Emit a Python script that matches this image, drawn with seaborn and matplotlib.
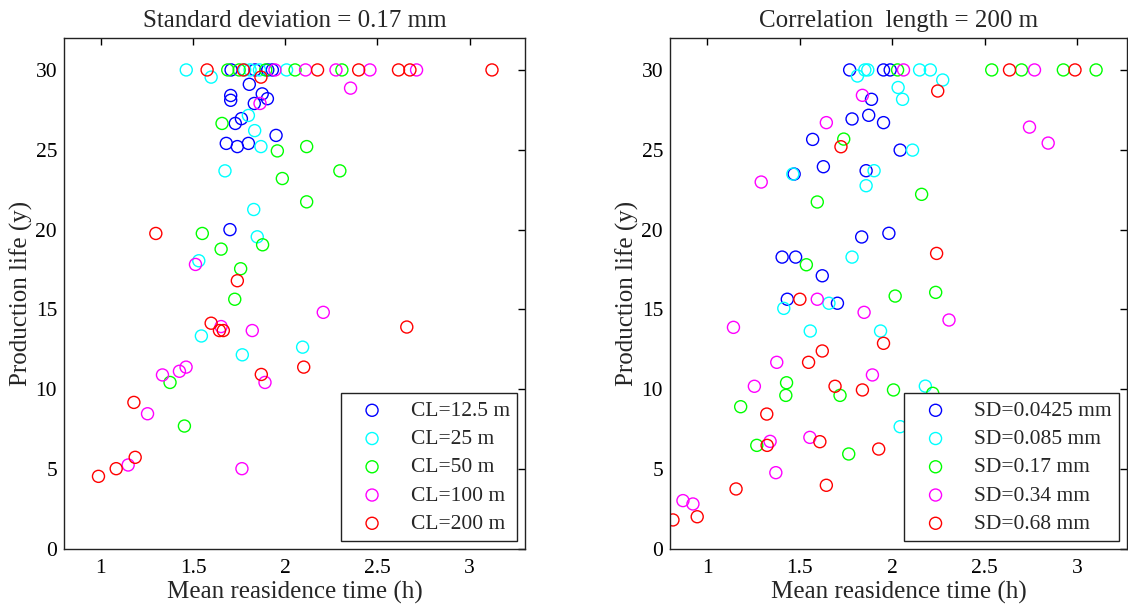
import numpy as np
import pandas as pd
import matplotlib
matplotlib.use("Agg")
import matplotlib.pyplot as plt
import seaborn as sns

# ---------------------------------------------------------------
# data (mean residence time h, production life y)
# left panel: SD = 0.17 mm, series by correlation length
# ---------------------------------------------------------------
cl_labels = ['CL=12.5 m', 'CL=25 m', 'CL=50 m', 'CL=100 m', 'CL=200 m']

cl125_x = [1.706, 1.836, 1.905, 1.93, 1.805, 1.704, 1.704, 1.875, 1.903, 1.832,
           1.729, 1.762, 1.95, 1.68, 1.74, 1.80, 1.70]
cl125_y = [30, 30, 30, 30, 29.1, 28.4, 28.1, 28.5, 28.2, 27.9,
           26.65, 26.95, 25.9, 25.4, 25.2, 25.4, 20.0]

cl25_x = [1.463, 1.78, 1.809, 1.86, 2.007, 1.598, 1.80, 1.834, 1.868, 1.673,
          1.829, 1.848, 1.531, 1.545, 1.767, 2.094]
cl25_y = [30, 30, 30, 30, 30, 29.55, 27.15, 26.2, 25.2, 23.68,
          21.26, 19.55, 18.05, 13.34, 12.16, 12.64]

cl50_x = [1.688, 1.75, 1.894, 2.053, 2.307, 1.657, 1.957, 2.116, 1.984, 2.296,
          2.116, 1.55, 1.877, 1.652, 1.758, 1.726, 1.375, 1.453]
cl50_y = [30, 30, 30, 30, 30, 26.65, 24.93, 25.2, 23.2, 23.68,
          21.74, 19.76, 19.05, 18.78, 17.55, 15.64, 10.43, 7.7]

cl100_x = [1.944, 2.11, 2.275, 2.459, 2.712, 1.863, 2.354, 1.513, 1.652, 1.821,
           2.206, 1.89, 1.334, 1.426, 1.462, 1.253, 1.148, 1.765]
cl100_y = [30, 30, 30, 30, 30, 27.9, 28.86, 17.82, 13.93, 13.68,
           14.82, 10.43, 10.9, 11.13, 11.39, 8.47, 5.26, 5.03]

cl200_x = [1.576, 1.773, 2.175, 2.398, 2.614, 2.676, 3.121, 1.868, 1.298, 1.74,
           1.598, 1.643, 1.664, 2.659, 2.10, 1.87, 1.179, 1.186, 1.083, 0.987]
cl200_y = [30, 30, 30, 30, 30, 30, 30, 29.55, 19.76, 16.8,
           14.14, 13.68, 13.68, 13.9, 11.39, 10.93, 9.18, 5.74, 5.03, 4.55]

# right panel: CL = 200 m, series by standard deviation
sd_labels = ['SD=0.0425 mm', 'SD=0.085 mm', 'SD=0.17 mm', 'SD=0.34 mm', 'SD=0.68 mm']

sd0425_x = [1.771, 1.954, 1.99, 1.889, 1.784, 1.874, 1.954, 1.571, 1.629, 1.471,
            1.86, 2.044, 1.836, 1.983, 1.406, 1.479, 1.623, 1.434, 1.705]
sd0425_y = [30, 30, 30, 28.16, 26.93, 27.16, 26.7, 25.65, 23.94, 23.48,
            23.69, 24.98, 19.54, 19.77, 18.28, 18.28, 17.11, 15.64, 15.39]

sd085_x = [1.813, 1.853, 1.869, 2.149, 2.207, 2.274, 2.033, 2.057, 2.111, 1.464,
           1.903, 1.86, 1.784, 1.659, 1.415, 1.558, 1.938, 2.18, 2.044]
sd085_y = [29.62, 30, 30, 30, 30, 29.37, 28.9, 28.16, 24.98, 23.48,
           23.69, 22.75, 18.28, 15.39, 15.07, 13.65, 13.65, 10.2, 7.66]

sd017_x = [2.03, 2.539, 2.70, 2.926, 3.103, 1.739, 1.596, 2.16, 1.537, 2.017,
           2.236, 2.008, 2.22, 1.43, 1.426, 1.719, 1.182, 1.269, 1.766]
sd017_y = [30, 30, 30, 30, 30, 25.67, 21.73, 22.21, 17.8, 15.84,
           16.07, 9.96, 9.75, 10.41, 9.62, 9.62, 8.91, 6.49, 5.95]

sd034_x = [2.062, 2.77, 1.84, 1.645, 1.293, 2.743, 2.844, 1.596, 1.849, 2.308,
           1.143, 1.377, 1.894, 1.256, 1.341, 1.556, 1.372, 0.87, 0.924]
sd034_y = [30, 30, 28.41, 26.7, 22.98, 26.42, 25.42, 15.64, 14.82, 14.34,
           13.88, 11.69, 10.9, 10.19, 6.74, 6.99, 4.78, 3.03, 2.82]

sd068_x = [2.635, 2.989, 2.247, 1.724, 2.241, 1.502, 1.954, 1.623, 1.549, 1.692,
           1.84, 1.323, 1.325, 1.61, 1.928, 1.645, 1.157, 0.947, 0.816]
sd068_y = [30, 30, 28.68, 25.19, 18.51, 15.64, 12.88, 12.4, 11.69, 10.19,
           9.96, 8.45, 6.49, 6.72, 6.26, 3.99, 3.76, 2.02, 1.82]

colors = ['#0000ff', '#00ffff', '#00ff00', '#ff00ff', '#ff0000']

left_series = [(cl125_x, cl125_y), (cl25_x, cl25_y), (cl50_x, cl50_y),
               (cl100_x, cl100_y), (cl200_x, cl200_y)]
right_series = [(sd0425_x, sd0425_y), (sd085_x, sd085_y), (sd017_x, sd017_y),
                (sd034_x, sd034_y), (sd068_x, sd068_y)]


def to_frame(series, labels):
    parts = []
    for (xs, ys), lab in zip(series, labels):
        parts.append(pd.DataFrame({'x': xs, 'y': ys, 'group': lab}))
    return pd.concat(parts, ignore_index=True)


left_df = to_frame(left_series, cl_labels)
right_df = to_frame(right_series, sd_labels)

sns.set_style('white')
plt.rcParams['font.family'] = ['Liberation Serif', 'DejaVu Serif']

fig = plt.figure(figsize=(11.28, 6.12), dpi=100)
ax1 = fig.add_axes([64 / 1128, 1 - 549 / 612, (525 - 64) / 1128, (549 - 38) / 612])
ax2 = fig.add_axes([670 / 1128, 1 - 549 / 612, (1127 - 670) / 1128, (549 - 38) / 612])


def draw_panel(ax, df, labels, title, xmax):
    # one call per group so that red is drawn last, as in the original
    for lab, col in zip(labels, colors):
        sub = df[df['group'] == lab]
        sns.scatterplot(data=sub, x='x', y='y', ax=ax, marker='o', s=75,
                        color=col, facecolor='none', edgecolor=col,
                        linewidth=1.0, label=lab)
    ax.set_xlim(0.8, xmax)
    ax.set_ylim(0, 32)
    ax.set_xticks([1, 1.5, 2, 2.5, 3])
    ax.set_xticklabels(['1', '1.5', '2', '2.5', '3'])
    ax.set_yticks([0, 5, 10, 15, 20, 25, 30])
    ax.tick_params(direction='in', top=True, right=True, length=5, width=1,
                   labelsize=15.5, colors='black')
    ax.tick_params(axis='x', pad=7)
    ax.tick_params(axis='y', pad=5)
    for sp in ax.spines.values():
        sp.set_visible(True)
        sp.set_color('#222222')
        sp.set_linewidth(1.0)
    ax.set_xlabel('Mean reasidence time (h)', fontsize=18, labelpad=2)
    ax.set_ylabel('Production life (y)', fontsize=18, labelpad=2)
    ax.set_title(title, fontsize=18, pad=8)
    leg = ax.legend(loc='lower right', fontsize=15.5, frameon=True, fancybox=False,
                    framealpha=1, edgecolor='#222222', borderaxespad=0.35,
                    handletextpad=0.7, labelspacing=0.38, borderpad=0.35,
                    handlelength=2.2)
    leg.get_frame().set_linewidth(1.0)


draw_panel(ax1, left_df, cl_labels, 'Standard deviation = 0.17 mm', 3.3)
draw_panel(ax2, right_df, sd_labels, 'Correlation  length = 200 m', 3.27)

fig.savefig('out.png', dpi=100)
